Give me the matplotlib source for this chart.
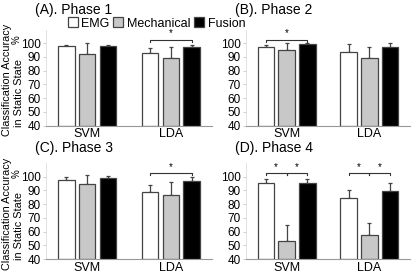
import matplotlib
matplotlib.use('Agg')
import matplotlib.pyplot as plt
import numpy as np

plt.rcParams['font.family'] = ['Liberation Sans', 'DejaVu Sans']

# data
classifiers = ['SVM', 'LDA']
sources = ['EMG', 'Mechanical', 'Fusion']
titles = ['(A). Phase 1', '(B). Phase 2', '(C). Phase 3', '(D). Phase 4']

# mean accuracy, rows = classifier, cols = EMG / Mechanical / Fusion
phase1 = [[97.9, 92.2, 98.2], [92.9, 89.3, 96.9]]
phase2 = [[97.4, 95.2, 99.3], [93.3, 89.4, 97.4]]
phase3 = [[97.4, 94.4, 99.3], [89.0, 86.7, 96.7]]
phase4 = [[95.6, 53.4, 95.1], [84.2, 57.3, 89.5]]

# upper error (std)
err1 = [[0.8, 7.8, 0.6], [3.3, 8.1, 2.0]]
err2 = [[1.5, 5.0, 0.6], [6.0, 8.0, 2.5]]
err3 = [[2.2, 6.5, 1.0], [4.8, 9.8, 3.2]]
err4 = [[2.6, 11.2, 3.0], [6.0, 9.2, 5.8]]

# significance pairs: (classifier index, bar a, bar b)
sig1 = [(1, 0, 2)]
sig2 = [(0, 0, 2)]
sig3 = [(1, 0, 2)]
sig4 = [(0, 0, 1), (0, 1, 2), (1, 0, 1), (1, 1, 2)]

yticks = [40, 50, 60, 70, 80, 90, 100]

means = [phase1, phase2, phase3, phase4]
errs = [err1, err2, err3, err4]
sigs = [sig1, sig2, sig3, sig4]

W, H = 415, 273
fig = plt.figure(figsize=(W / 100, H / 100), dpi=100)

# axes boxes in pixels: left, right, top, bottom (y from top)
boxes = [(46, 212, 29.5, 125.5), (246, 410, 29.5, 125.5),
         (46, 212, 163, 259), (246, 410, 163, 259)]
title_gap = [19.5, 19.5, 15, 15]

colors = ['white', '#c8c8c8', 'black']
bw = 0.2
step = 0.25
x = np.arange(len(classifiers))

axes = []
for k in range(4):
    l, r, t, b = boxes[k]
    ax = fig.add_axes([l / W, (H - b) / H, (r - l) / W, (b - t) / H])
    axes.append(ax)
    m = np.array(means[k])
    e = np.array(errs[k])
    for j in range(3):
        xs = x + (j - 1) * step
        ax.bar(xs, m[:, j] - 40, bw, bottom=40, color=colors[j],
               edgecolor='#444444', linewidth=0.9, label=sources[j], zorder=2)
        ax.errorbar(xs, m[:, j], yerr=[np.zeros(2), e[:, j]], fmt='none',
                    ecolor='#444444', elinewidth=0.9, capsize=1.5, capthick=0.9, zorder=1)
    for (c, a, bb) in sigs[k]:
        xa = x[c] + (a - 1) * step
        xb = x[c] + (bb - 1) * step
        yb = 102.5
        ax.plot([xa, xa, xb, xb], [yb - 1.5, yb, yb, yb - 1.5], color='#333333', lw=0.8)
        ax.text((xa + xb) / 2, yb + 1.2, '*', ha='center', va='bottom', fontsize=7)
    ax.set_xlim(-0.49, 1.49)
    ax.set_ylim(40, 110)
    ax.set_yticks(yticks)
    ax.set_xticks(x)
    ax.set_xticklabels(classifiers, fontsize=9)
    ax.tick_params(axis='y', labelsize=8.5, length=2, width=0.5, color='#bbbbbb', pad=2)
    ax.tick_params(axis='x', length=0, pad=2)
    for s in ['top', 'right']:
        ax.spines[s].set_visible(False)
    ax.spines['left'].set_color('#dddddd')
    ax.spines['left'].set_linewidth(0.6)
    ax.spines['bottom'].set_color('#999999')
    ax.spines['bottom'].set_linewidth(0.8)
    ax.text(-0.066, 1 + title_gap[k] / 96, titles[k], transform=ax.transAxes,
            fontsize=10, ha='left', va='center')
    if k % 2 == 0:
        dy = t - 29.5
        fig.text(7 / W, (H - 80 - dy) / H, 'Classification Accuracy', rotation=90,
                 ha='center', va='center', fontsize=7.8)
        fig.text(18.5 / W, (H - 93 - dy) / H, 'in Static State', rotation=90,
                 ha='center', va='center', fontsize=7.8)
        fig.text(17 / W, (H - 40 - dy) / H, '%', rotation=90,
                 ha='center', va='center', fontsize=7)

axes[0].legend(loc='lower left', bbox_to_anchor=(0.13, 1.0), ncol=3, frameon=False,
               fontsize=9, handlelength=0.8, handleheight=0.8, handletextpad=0.3,
               columnspacing=0.3, borderpad=0, borderaxespad=0)

fig.savefig('out.png', dpi=100)
